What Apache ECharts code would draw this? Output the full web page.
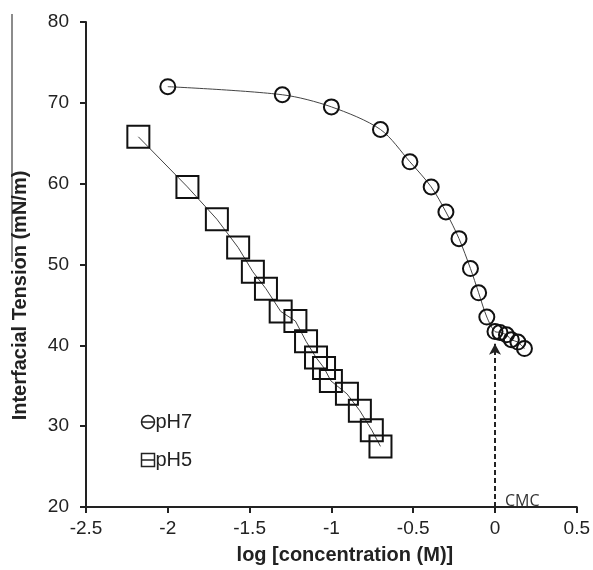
<!DOCTYPE html>
<html>
<head>
<meta charset="utf-8">
<script src="https://cdn.jsdelivr.net/npm/echarts@6/dist/echarts.min.js"></script>
<style>
  html, body { margin: 0; padding: 0; background: #fff; }
  #chart { width: 593px; height: 570px; }
</style>
</head>
<body>
<div id="chart"></div>
<script>
// pH 7 series (log concentration vs interfacial tension)
const ph7X = [-2.0, -1.30, -1.0, -0.70, -0.52, -0.39, -0.30, -0.22, -0.15, -0.10, -0.05, 0.0, 0.03, 0.07, 0.10, 0.14, 0.18];
const ph7Y = [72.0, 71.0, 69.5, 66.7, 62.7, 59.6, 56.5, 53.2, 49.5, 46.5, 43.5, 41.7, 41.6, 41.3, 40.7, 40.4, 39.6];

// pH 5 series
const ph5X = [-2.18, -1.88, -1.70, -1.57, -1.48, -1.40, -1.31, -1.22, -1.155, -1.094, -1.045, -1.003, -0.905, -0.826, -0.753, -0.70];
const ph5Y = [65.8, 59.6, 55.6, 52.1, 49.1, 47.0, 44.2, 43.0, 40.5, 38.5, 37.2, 35.6, 34.0, 31.9, 29.5, 27.5];

// CMC arrow
const cmcX = 0;
const cmcFrom = 20;
const cmcTo = 40.2;
const cmcLabel = 'CMC';

const seriesNames = ['pH7', 'pH5'];

const pairs = (xs, ys) => xs.map((x, i) => [x, ys[i]]);

const font = '"Liberation Sans", Arial, sans-serif';

const chart = echarts.init(document.getElementById('chart'));
chart.setOption({
  backgroundColor: '#fff',
  animation: false,
  grid: { left: 86, right: 14, top: 22, bottom: 62 },
  legend: {
    orient: 'vertical',
    left: 134,
    top: 407,
    itemGap: 18,
    itemWidth: 13,
    itemHeight: 13,
    textStyle: { fontFamily: font, fontSize: 20, color: '#222', padding: [0, 0, 0, -4] },
    data: [
      {
        name: seriesNames[0],
        icon: 'path://M0,6A6,6 0 1,1 12,6A6,6 0 1,1 0,6ZM0,6L12,6',
        itemStyle: { color: 'none', borderColor: '#222', borderWidth: 1.5 },
      },
      {
        name: seriesNames[1],
        icon: 'path://M0,0L12,0L12,12L0,12ZM0,6L12,6',
        itemStyle: { color: 'none', borderColor: '#222', borderWidth: 1.5 },
      },
    ],
  },
  xAxis: {
    type: 'value',
    min: -2.5,
    max: 0.5,
    interval: 0.5,
    name: 'log [concentration (M)]',
    nameLocation: 'middle',
    nameGap: 38,
    nameTextStyle: { fontFamily: font, fontSize: 20, fontWeight: 'bold', color: '#222', padding: [0, 0, 0, 27] },
    axisLine: { onZero: false, lineStyle: { color: '#222', width: 2 } },
    axisTick: { show: true, length: 6, lineStyle: { color: '#222', width: 2 } },
    axisLabel: { fontFamily: font, fontSize: 19, color: '#222', margin: 12 },
    splitLine: { show: false },
  },
  yAxis: {
    type: 'value',
    min: 20,
    max: 80,
    interval: 10,
    name: 'Interfacial Tension (mN/m)',
    nameLocation: 'middle',
    nameGap: 56,
    nameTextStyle: { fontFamily: font, fontSize: 20, fontWeight: 'bold', color: '#222', padding: [0, 62, 0, 0] },
    axisLine: { show: true, onZero: false, lineStyle: { color: '#222', width: 2 } },
    axisTick: { show: true, length: 6, lineStyle: { color: '#222', width: 2 } },
    axisLabel: { fontFamily: font, fontSize: 19, color: '#222', margin: 17 },
    splitLine: { show: false },
  },
  graphic: [
    {
      type: 'line',
      shape: { x1: 12, y1: 14, x2: 12, y2: 262 },
      style: { stroke: '#666', lineWidth: 1.5 },
    },
  ],
  series: [
    {
      name: seriesNames[0],
      type: 'line',
      data: pairs(ph7X, ph7Y),
      smooth: 0.3,
      symbol: 'circle',
      symbolSize: 15,
      itemStyle: { color: 'transparent', borderColor: '#111', borderWidth: 2 },
      lineStyle: { color: '#444', width: 1 },
      z: 3,
      markLine: {
        silent: true,
        symbol: ['none', 'arrow'],
        symbolSize: [9, 11],
        lineStyle: { color: '#222', width: 2, type: [5, 3] },
        label: { show: false },
        data: [[{ coord: [cmcX, cmcFrom] }, { coord: [cmcX, cmcTo] }]],
      },
      markPoint: {
        silent: true,
        symbol: 'circle',
        symbolSize: 0,
        label: {
          show: true,
          formatter: cmcLabel,
          position: 'right',
          offset: [5, -6],
          fontFamily: '"Open Sans", "Noto Sans", sans-serif',
          fontSize: 16,
          color: '#333',
        },
        data: [{ coord: [cmcX, cmcFrom] }],
      },
    },
    {
      name: seriesNames[1],
      type: 'line',
      data: pairs(ph5X, ph5Y),
      symbol: 'rect',
      symbolSize: 22,
      itemStyle: { color: 'transparent', borderColor: '#111', borderWidth: 2 },
      lineStyle: { color: '#444', width: 1 },
      z: 3,
    },
  ],
});
</script>
</body>
</html>
